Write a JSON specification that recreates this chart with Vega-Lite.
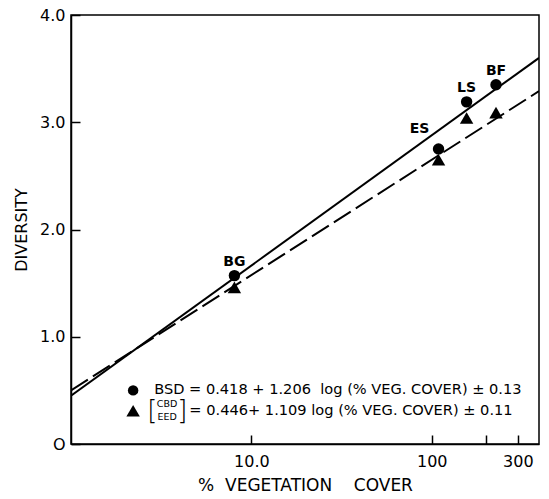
{
  "$schema": "https://vega.github.io/schema/vega-lite/v6.json",
  "width": 468,
  "height": 429,
  "autosize": {"type": "none"},
  "padding": {"left": 71, "top": 15, "right": 10, "bottom": 55},
  "background": "white",
  "config": {
    "font": "DejaVu Sans",
    "view": {"stroke": "black", "strokeWidth": 1.5},
    "axis": {
      "grid": false,
      "domainColor": "black",
      "domainWidth": 1.5,
      "tickColor": "black",
      "tickWidth": 1.5,
      "labelColor": "black",
      "titleColor": "black",
      "labelFont": "DejaVu Sans",
      "titleFont": "DejaVu Sans",
      "labelFontSize": 16,
      "titleFontSize": 16,
      "titleFontWeight": "normal"
    }
  },
  "datasets": {
    "lines": [
      {"cover": 1, "diversity": 0.45, "index": "BSD"},
      {"cover": 393, "diversity": 3.6, "index": "BSD"},
      {"cover": 1, "diversity": 0.5, "index": "CBD/EED"},
      {"cover": 393, "diversity": 3.29, "index": "CBD/EED"}
    ],
    "points": [
      {"site": "BG", "cover": 8.05, "diversity": 1.57, "index": "BSD"},
      {"site": "ES", "cover": 109, "diversity": 2.75, "index": "BSD"},
      {"site": "LS", "cover": 156, "diversity": 3.19, "index": "BSD"},
      {"site": "BF", "cover": 227, "diversity": 3.35, "index": "BSD"},
      {"site": "BG", "cover": 8.05, "diversity": 1.46, "index": "CBD/EED"},
      {"site": "ES", "cover": 109, "diversity": 2.65, "index": "CBD/EED"},
      {"site": "LS", "cover": 156, "diversity": 3.04, "index": "CBD/EED"},
      {"site": "BF", "cover": 227, "diversity": 3.09, "index": "CBD/EED"}
    ],
    "anchor": [{}]
  },
  "layer": [
    {
      "data": {"name": "lines"},
      "transform": [{"filter": "datum.index == 'BSD'"}],
      "mark": {"type": "line", "color": "black", "strokeWidth": 2, "clip": true},
      "encoding": {
        "x": {
          "field": "cover",
          "type": "quantitative",
          "scale": {"type": "log", "domain": [1, 393], "nice": false},
          "axis": {
            "title": "%\u00a0\u00a0VEGETATION\u00a0\u00a0\u00a0\u00a0COVER",
            "values": [10, 100, 200, 300],
            "labelExpr": "datum.value == 10 ? '10.0' : datum.value == 100 ? '100' : datum.value == 300 ? '300' : ''",
            "tickSize": -9,
            "labelPadding": 18,
            "titlePadding": 8,
            "titleFontSize": 17
          }
        },
        "y": {
          "field": "diversity",
          "type": "quantitative",
          "scale": {"domain": [0, 4], "nice": false},
          "axis": {
            "title": "DIVERSITY",
            "values": [0, 1, 2, 3, 4],
            "labelExpr": "datum.value == 0 ? 'O' : format(datum.value, '.1f')",
            "tickSize": -9,
            "labelPadding": 15,
            "titlePadding": 10
          }
        }
      }
    },
    {
      "data": {"name": "lines"},
      "transform": [{"filter": "datum.index == 'CBD/EED'"}],
      "mark": {"type": "line", "color": "black", "strokeWidth": 2, "strokeDash": [20, 6], "clip": true},
      "encoding": {
        "x": {"field": "cover", "type": "quantitative"},
        "y": {"field": "diversity", "type": "quantitative"}
      }
    },
    {
      "data": {"name": "points"},
      "mark": {"type": "point", "filled": true, "color": "black", "opacity": 1},
      "encoding": {
        "x": {"field": "cover", "type": "quantitative"},
        "y": {"field": "diversity", "type": "quantitative"},
        "shape": {"field": "index", "type": "nominal", "scale": {"domain": ["BSD", "CBD/EED"], "range": ["circle", "triangle-up"]}, "legend": null},
        "size": {"field": "index", "type": "nominal", "scale": {"domain": ["BSD", "CBD/EED"], "range": [130, 180]}, "legend": null}
      }
    },
    {
      "data": {"name": "points"},
      "transform": [{"filter": "datum.index == 'BSD' && datum.site != 'ES'"}],
      "mark": {"type": "text", "dy": -14, "fontSize": 14, "fontWeight": "bold", "color": "black"},
      "encoding": {
        "x": {"field": "cover", "type": "quantitative"},
        "y": {"field": "diversity", "type": "quantitative"},
        "text": {"field": "site"}
      }
    },
    {
      "data": {"name": "points"},
      "transform": [{"filter": "datum.index == 'BSD' && datum.site == 'ES'"}],
      "mark": {"type": "text", "dx": -19, "dy": -20, "fontSize": 14, "fontWeight": "bold", "color": "black"},
      "encoding": {
        "x": {"field": "cover", "type": "quantitative"},
        "y": {"field": "diversity", "type": "quantitative"},
        "text": {"field": "site"}
      }
    },
    {
      "data": {"name": "anchor"},
      "mark": {"type": "point", "shape": "circle", "filled": true, "color": "black", "opacity": 1, "size": 110},
      "encoding": {"x": {"datum": 2.21, "type": "quantitative"}, "y": {"datum": 0.5, "type": "quantitative"}}
    },
    {
      "data": {"name": "anchor"},
      "mark": {"type": "point", "shape": "triangle-up", "filled": true, "color": "black", "opacity": 1, "size": 180},
      "encoding": {"x": {"datum": 2.21, "type": "quantitative"}, "y": {"datum": 0.31, "type": "quantitative"}}
    },
    {
      "data": {"name": "anchor"},
      "mark": {"type": "text", "align": "left", "baseline": "middle", "fontSize": 14.6, "color": "black"},
      "encoding": {
        "x": {"datum": 2.89, "type": "quantitative"},
        "y": {"datum": 0.5, "type": "quantitative"},
        "text": {"value": "BSD = 0.418 + 1.206\u00a0\u00a0log (% VEG. COVER) ± 0.13"}
      }
    },
    {
      "data": {"name": "anchor"},
      "mark": {"type": "text", "align": "center", "baseline": "middle", "fontSize": 26, "fontWeight": "lighter", "color": "black"},
      "encoding": {
        "x": {"datum": 2.82, "type": "quantitative"},
        "y": {"datum": 0.31, "type": "quantitative"},
        "text": {"value": "["}
      }
    },
    {
      "data": {"name": "anchor"},
      "mark": {"type": "text", "align": "center", "baseline": "middle", "fontSize": 26, "fontWeight": "lighter", "color": "black"},
      "encoding": {
        "x": {"datum": 4.14, "type": "quantitative"},
        "y": {"datum": 0.31, "type": "quantitative"},
        "text": {"value": "]"}
      }
    },
    {
      "data": {"name": "anchor"},
      "mark": {"type": "text", "align": "center", "baseline": "middle", "fontSize": 9.5, "color": "black"},
      "encoding": {
        "x": {"datum": 3.41, "type": "quantitative"},
        "y": {"datum": 0.37, "type": "quantitative"},
        "text": {"value": "CBD"}
      }
    },
    {
      "data": {"name": "anchor"},
      "mark": {"type": "text", "align": "center", "baseline": "middle", "fontSize": 9.5, "color": "black"},
      "encoding": {
        "x": {"datum": 3.41, "type": "quantitative"},
        "y": {"datum": 0.25, "type": "quantitative"},
        "text": {"value": "EED"}
      }
    },
    {
      "data": {"name": "anchor"},
      "mark": {"type": "text", "align": "left", "baseline": "middle", "fontSize": 14.6, "color": "black"},
      "encoding": {
        "x": {"datum": 4.53, "type": "quantitative"},
        "y": {"datum": 0.31, "type": "quantitative"},
        "text": {"value": "= 0.446+ 1.109 log (% VEG. COVER) ± 0.11"}
      }
    }
  ]
}
